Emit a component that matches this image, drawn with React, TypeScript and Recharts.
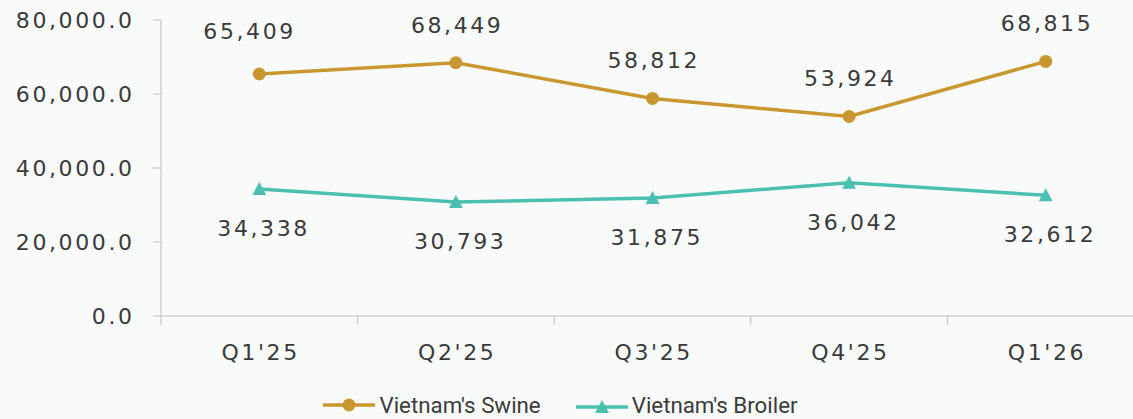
import React from 'react';
import { LineChart, Line, XAxis, YAxis, Legend, LabelList } from 'recharts';

const categories = ["Q1'25", "Q2'25", "Q3'25", "Q4'25", "Q1'26"];
const swine = [65409, 68449, 58812, 53924, 68815];
const broiler = [34338, 30793, 31875, 36042, 32612];
const yTicks = [0, 20000, 40000, 60000, 80000];

const data = categories.map((c, i) => ({ q: c, swine: swine[i], broiler: broiler[i] }));

const GOLD = '#C9972F';
const TEAL = '#4CC0B0';
const AXIS = '#BDBDBD';
const TEXT = '#3A3A3A';
const BG = '#F9FBFB';
const FONT = '"DejaVu Sans", sans-serif';
const LS = 2.6;

const CHART_W = 1160;
const CHART_H = 419;
const Y_W = 161;
const M_RIGHT = 16;
const BAND = (CHART_W - Y_W - M_RIGHT) / categories.length;

const fmtY = (v: number) =>
  v.toLocaleString('en-US', { minimumFractionDigits: 1, maximumFractionDigits: 1 });
const fmtL = (v: number) => v.toLocaleString('en-US');

const XTick = (props: any) => {
  const { x, y, payload } = props;
  const bx = x - BAND / 2;
  return (
    <g>
      <line x1={bx} x2={bx} y1={y - 9} y2={y} stroke={AXIS} strokeWidth={1} />
      <text
        x={x + LS / 2}
        y={y + 35}
        textAnchor="middle"
        fill={TEXT}
        fontSize={22}
        fontFamily={FONT}
        letterSpacing={LS}
      >
        {payload.value}
      </text>
    </g>
  );
};

const YTick = (props: any) => {
  const { x, y, payload } = props;
  return (
    <text
      x={x + LS}
      y={y + 8}
      textAnchor="end"
      fill={TEXT}
      fontSize={22}
      fontFamily={FONT}
      letterSpacing={LS}
    >
      {fmtY(payload.value)}
    </text>
  );
};

const SwineLabel = (props: any) => {
  const { x, y, value, index } = props;
  const dx = index === 0 ? -11 : 0;
  const dy = index === 0 ? -5 : 0;
  return (
    <text
      x={x + dx + LS / 2}
      y={y - 30 + dy}
      textAnchor="middle"
      fill={TEXT}
      fontSize={22}
      fontFamily={FONT}
      letterSpacing={LS}
    >
      {fmtL(value)}
    </text>
  );
};

const BroilerLabel = (props: any) => {
  const { x, y, value } = props;
  return (
    <text
      x={x + 3 + LS / 2}
      y={y + 47}
      textAnchor="middle"
      fill={TEXT}
      fontSize={22}
      fontFamily={FONT}
      letterSpacing={LS}
    >
      {fmtL(value)}
    </text>
  );
};

const TriangleDot = (props: any) => {
  const { cx, cy } = props;
  if (cx == null || cy == null) return null;
  return (
    <path
      d={`M${cx - 7},${cy + 6} L${cx + 7},${cy + 6} L${cx},${cy - 7} Z`}
      fill={TEAL}
      stroke="none"
    />
  );
};

const LegendContent = () => (
  <div
    style={{
      display: 'flex',
      justifyContent: 'center',
      alignItems: 'center',
      gap: 35,
      width: 1133,
      fontFamily: 'Roboto, sans-serif',
      fontSize: 22.3,
      lineHeight: '24px',
      color: TEXT,
    }}
  >
    <div style={{ display: 'flex', alignItems: 'center' }}>
      <svg width={52} height={20} style={{ marginRight: 4 }}>
        <line x1={0} x2={52} y1={10} y2={10} stroke={GOLD} strokeWidth={3.5} />
        <circle cx={26} cy={10} r={6.5} fill={GOLD} />
      </svg>
      <span>Vietnam's Swine</span>
    </div>
    <div style={{ display: 'flex', alignItems: 'center' }}>
      <svg width={52} height={20} style={{ marginRight: 4 }}>
        <line x1={0} x2={52} y1={12} y2={12} stroke={TEAL} strokeWidth={3.5} />
        <path d="M19,18 L33,18 L26,5 Z" fill={TEAL} />
      </svg>
      <span>Vietnam's Broiler</span>
    </div>
  </div>
);

export default function App() {
  return (
    <div
      style={{
        position: 'fixed',
        left: 0,
        top: 0,
        width: 1133,
        height: 419,
        overflow: 'hidden',
        background: BG,
      }}
    >
      <LineChart
        width={CHART_W}
        height={CHART_H}
        data={data}
        margin={{ top: 20, right: M_RIGHT, bottom: 43, left: 0 }}
      >
        <XAxis
          dataKey="q"
          scale="band"
          height={60}
          axisLine={{ stroke: AXIS, strokeWidth: 1 }}
          tickLine={false}
          tickSize={9}
          tickMargin={0}
          tick={<XTick />}
          interval={0}
        />
        <YAxis
          width={Y_W}
          domain={[0, 80000]}
          ticks={yTicks}
          axisLine={{ stroke: AXIS, strokeWidth: 1 }}
          tickLine={{ stroke: AXIS, strokeWidth: 1 }}
          tickSize={8}
          tickMargin={21}
          tick={<YTick />}
          interval={0}
        />
        <Legend
          layout="horizontal"
          verticalAlign="middle"
          align="center"
          content={<LegendContent />}
          wrapperStyle={{ top: 393, left: -6, width: 1133 }}
        />
        <Line
          dataKey="swine"
          name="Vietnam's Swine"
          stroke={GOLD}
          strokeWidth={3.5}
          dot={{ r: 6.5, fill: GOLD, stroke: 'none' }}
          activeDot={false}
          isAnimationActive={false}
        >
          <LabelList dataKey="swine" content={<SwineLabel />} />
        </Line>
        <Line
          dataKey="broiler"
          name="Vietnam's Broiler"
          stroke={TEAL}
          strokeWidth={3.5}
          dot={<TriangleDot />}
          activeDot={false}
          isAnimationActive={false}
        >
          <LabelList dataKey="broiler" content={<BroilerLabel />} />
        </Line>
      </LineChart>
    </div>
  );
}
